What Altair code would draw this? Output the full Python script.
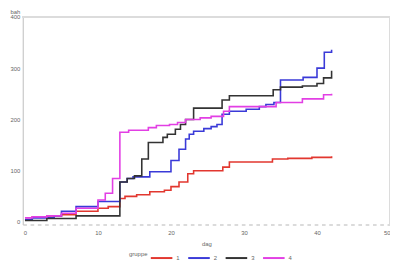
import altair as alt
import pandas as pd

groups = ["1", "2", "3", "4"]
colors = ["#e2372f", "#3a3ad8", "#333333", "#e23fe4"]

days_1 = [0, 1, 3, 5, 7, 10, 11.4, 13, 13.7, 15.3, 17.1, 19.1, 20, 21.1, 22.3, 23.1, 27.1, 28, 33.9, 36, 39.3, 42]
vals_1 = [5, 10, 12, 14, 21, 27, 30, 46, 50, 53, 59, 62, 69, 78, 94, 100, 107, 117, 123, 124, 126, 128]

days_2 = [0, 1, 4, 5, 7, 10, 13, 14, 14.8, 17.1, 20, 21.1, 22, 22.5, 23.1, 24.5, 25.5, 26.3, 27, 28, 30.3, 32.1, 33, 34.1, 35, 38.1, 40, 41, 42]
vals_2 = [5, 8, 12, 21, 30, 40, 78, 85, 88, 98, 120, 142, 162, 171, 177, 182, 186, 190, 210, 216, 220, 225, 229, 233, 277, 282, 300, 331, 336]

days_3 = [0, 3, 7, 13, 14, 15, 16, 16.9, 18.9, 19.5, 20.6, 21.3, 22, 23.1, 27, 28, 34, 35, 38, 40, 40.9, 42]
vals_3 = [3, 7, 12, 78, 85, 90, 123, 155, 165, 171, 181, 190, 200, 222, 238, 246, 258, 263, 265, 270, 281, 295]

days_4 = [0, 1, 3, 5, 7, 10, 11, 12, 13, 14.2, 16.9, 18, 19.8, 20.9, 22, 24, 25.5, 27.2, 28, 34.4, 38, 40.9, 42]
vals_4 = [8, 10, 12, 17, 27, 43, 56, 85, 175, 179, 184, 188, 190, 194, 200, 203, 206, 216, 225, 233, 240, 248, 250]

x_ticks = [0, 10, 20, 30, 40, 50]
y_ticks = [0, 100, 200, 300, 400]

rows = []
for g, ds, vs in zip(groups, [days_1, days_2, days_3, days_4], [vals_1, vals_2, vals_3, vals_4]):
    for i, (d, v) in enumerate(zip(ds, vs)):
        rows.append({"dag": d, "value": v, "gruppe": g, "order": i})
df = pd.DataFrame(rows)

W, H = 373, 211
font = "Liberation Sans"

lines = alt.Chart(df).mark_line(interpolate="step-after", strokeWidth=1.6).encode(
    x=alt.X("dag:Q",
            scale=alt.Scale(domain=[-0.3, 50], nice=False, zero=False),
            axis=alt.Axis(values=x_ticks, title="dag", grid=False, ticks=False,
                          labelPadding=5, titlePadding=5, domainColor="#cfcfcf",
                          domainDash=[3.7, 3.7], domainWidth=1.5)),
    y=alt.Y("value:Q",
            scale=alt.Scale(domain=[-5, 400], nice=False, zero=False),
            axis=alt.Axis(values=y_ticks, title="bah", grid=False, ticks=False,
                          labelPadding=3, domainColor="#c8c8c8", domainWidth=1.2,
                          titleAngle=0, titleAlign="left", titleBaseline="middle",
                          titleX=-13, titleY=-5)),
    color=alt.Color("gruppe:N", scale=alt.Scale(domain=groups, range=colors),
                    legend=alt.Legend(orient="none", legendX=108, legendY=233,
                                      direction="horizontal",
                                      titleOrient="left", titleAnchor="middle",
                                      titleBaseline="middle",
                                      symbolType="stroke",
                                      symbolStrokeWidth=2, symbolSize=480,
                                      columnPadding=4, labelOffset=3,
                                      titlePadding=2, padding=0)),
    order="order:Q",
)

frame_top = alt.Chart(df).mark_rule(color="#dcdcdc", strokeWidth=1.5).encode(
    x=alt.value(0), x2=alt.value(W), y=alt.value(0))
frame_right = alt.Chart(df).mark_rule(color="#dcdcdc", strokeWidth=1.5).encode(
    x=alt.value(W), y=alt.value(0), y2=alt.value(H))

chart = alt.layer(frame_top, frame_right, lines).properties(
    width=W, height=H,
    autosize=alt.AutoSizeParams(type="none"),
    padding={"left": 15, "top": 7, "right": 0, "bottom": 34},
).configure_view(stroke=None).configure_axis(
    labelFont=font, titleFont=font, labelFontSize=6, titleFontSize=6,
    labelColor="#666666", titleColor="#666666", titleFontWeight="normal",
).configure_legend(
    labelFont=font, titleFont=font, labelFontSize=6, titleFontSize=6,
    labelColor="#666666", titleColor="#666666", titleFontWeight="normal",
)

chart.save("out.html", embed_options={"renderer": "svg", "actions": False})
